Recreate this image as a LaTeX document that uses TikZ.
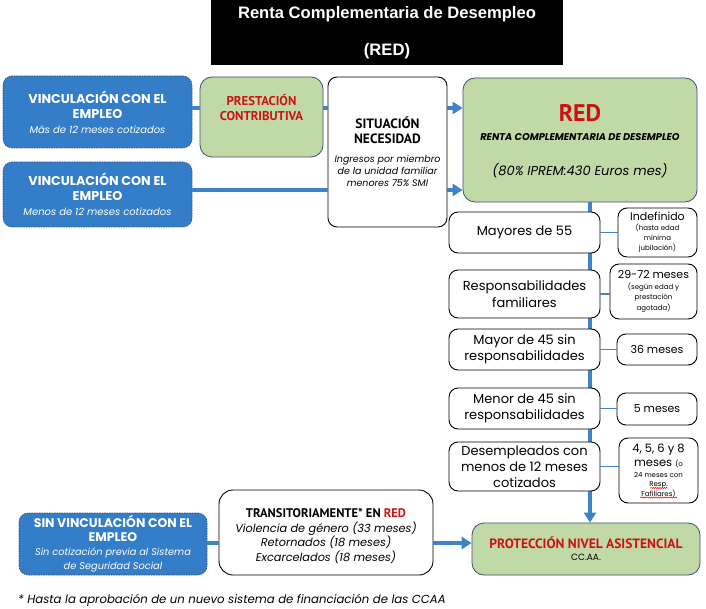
\documentclass[tikz,border=0pt]{standalone}
\usepackage{fontspec}
\setmainfont{Poppins}
\newfontfamily\titlefont{Liberation Sans}
\newfontfamily\narrowfont{PT Sans}
\usetikzlibrary{arrows.meta,decorations.pathmorphing,calc}
\definecolor{boxblue}{RGB}{52,125,200}
\definecolor{lineblue}{RGB}{62,130,200}
\definecolor{boxgreen}{RGB}{192,217,166}
\definecolor{darkred}{RGB}{204,18,18}
\definecolor{edgegray}{RGB}{60,80,110}
\newcommand\fsz[2]{\fontsize{#1}{#2}\selectfont}
\begin{document}
\begin{tikzpicture}[x=1pt,y=-1pt,
  titlebox/.style={fill=black, inner sep=0},
  titletext/.style={text=white, font=\titlefont\bfseries\fsz{16.6}{18}, inner sep=0},
  bluebox/.style={draw=edgegray, dash pattern=on 1.5pt off 1pt, line width=0.6pt, fill=boxblue, rounded corners=9pt, text=white, align=center, inner sep=0},
  whitebox/.style={draw=black, line width=0.9pt, fill=white, rounded corners=9pt, align=center, inner sep=0},
  greenbox/.style={draw=edgegray, line width=0.8pt, fill=boxgreen, rounded corners=12pt, align=center, inner sep=0},
  plain/.style={inner sep=0, align=center},
  mainline/.style={draw=lineblue, line width=3.5pt},
  mainarrow/.style={mainline, -{Triangle[length=10pt,width=12pt]}},
  thinline/.style={draw=lineblue, line width=1.2pt},
  squiggle/.style={draw=red, line width=0.5pt, decorate, decoration={snake, amplitude=0.6pt, segment length=2.2pt}}
]
\useasboundingbox (0,0) rectangle (706,609);
\fill[white] (0,0) rectangle (706,609);

% title
\node[titlebox, minimum width=352pt, minimum height=65pt] (title) at (387,32.5) {};
\node[titletext] (t1) at (387,14) {Renta Complementaria de Desempleo};
\node[titletext] (t2) at (387,51) {(RED)};

% rows
\coordinate (rowA) at (0,108);
\coordinate (rowB) at (0,190);
\coordinate (rowC) at (0,543);
\coordinate (spine) at (590,0);

% main boxes (top)
\node[bluebox, minimum width=189pt, minimum height=72pt, font=\fsz{10}{15}] (blue1) at (97.5,112)
  {{\bfseries\fsz{12.8}{15}VINCULACIÓN CON EL}\\{\bfseries\fsz{12.8}{15}EMPLEO}\\{\itshape Más de 12 meses cotizados}};
\node[bluebox, minimum width=189pt, minimum height=65pt, font=\fsz{10}{15}] (blue2) at (97.5,194.5)
  {{\bfseries\fsz{12.8}{15}VINCULACIÓN CON EL}\\{\bfseries\fsz{12.8}{15}EMPLEO}\\{\itshape Menos de 12 meses cotizados}};
\node[greenbox, minimum width=123pt, minimum height=80pt, text=darkred, font=\narrowfont\bfseries\fsz{12.8}{15}] (prest) at (261.5,117)
  {PRESTACIÓN\\CONTRIBUTIVA\\[4pt]};
\node[whitebox, minimum width=119pt, minimum height=150pt, font=\fsz{9.5}{12}] (sit) at (387.5,152)
  {{\narrowfont\bfseries\fsz{13.5}{14}SITUACIÓN}\\[3pt]{\narrowfont\bfseries\fsz{13.5}{14}NECESIDAD}\\[7pt]{\itshape Ingresos por miembro}\\{\itshape de la unidad familiar}\\{\itshape menores 75\% SMI}};
\node[greenbox, minimum width=234pt, minimum height=124pt] (red) at (580,140) {};
\node[plain, text=darkred, font=\narrowfont\bfseries\fsz{24}{26}] (redA) at (580,113) {RED};
\node[plain, font=\bfseries\itshape\fsz{9.8}{11}] (redB) at (580,137) {RENTA COMPLEMENTARIA DE DESEMPLEO};
\node[plain, font=\itshape\fsz{13}{14}] (redC) at (580,171) {(80\% IPREM:430 Euros mes)};

% bottom boxes
\node[greenbox, minimum width=228pt, minimum height=52pt] (prot) at (586,549) {};
\node[plain, text=darkred, font=\narrowfont\bfseries\fsz{13.5}{14}] (protA) at (586,543) {PROTECCIÓN NIVEL ASISTENCIAL};
\node[plain, font=\fsz{9}{10}] (protB) at (586,557) {CC.AA.};

% spine (behind column boxes)
\draw[mainarrow] (red.south -| spine) -- (prot.north -| spine);

% column boxes
\node[whitebox, minimum width=151pt, minimum height=41pt, font=\fsz{13}{16.5}] (may55) at (524.5,232.5) {Mayores de 55};
\node[whitebox, minimum width=79pt, minimum height=49pt, font=\fsz{7}{10}] (indef) at (657.5,232.5)
  {{\fsz{11}{12}Indefinido}\\(hasta edad\\mínima\\jubilación)};
\node[whitebox, minimum width=151pt, minimum height=48pt, font=\fsz{13}{16.5}] (resp) at (524.5,294) {Responsabilidades\\familiares};
\node[whitebox, minimum width=87pt, minimum height=55pt, font=\fsz{7}{10.5}] (r2972) at (653.5,291.5)
  {{\fsz{11}{15}29-72 meses}\\(según edad y\\prestación\\agotada)};
\node[whitebox, minimum width=151pt, minimum height=41pt, font=\fsz{13}{16}] (may45) at (524.5,349.5) {Mayor de 45 sin\\responsabilidades};
\node[whitebox, minimum width=80pt, minimum height=31pt, font=\fsz{11}{13}] (m36) at (657,349.5) {36 meses};
\node[whitebox, minimum width=151pt, minimum height=41pt, font=\fsz{13}{16}] (men45) at (524.5,408.5) {Menor de 45 sin\\responsabilidades};
\node[whitebox, minimum width=80pt, minimum height=32pt, font=\fsz{11}{13}] (m5) at (657,409) {5 meses};
\node[whitebox, minimum width=151pt, minimum height=49pt, font=\fsz{13}{16}] (desem) at (524.5,466.5) {Desempleados con\\menos de 12 meses\\cotizados};
\node[whitebox, minimum width=79pt, minimum height=65pt, font=\fsz{7}{9.3}] (m4568) at (658.5,470.5)
  {{\fsz{11.5}{14.5}4, 5, 6 y 8}\\[4pt]{\fsz{11.5}{11.5}meses }(o\\[1.5pt]24 meses con\\Resp.\\Fafiliares)};

\node[bluebox, minimum width=188pt, minimum height=62pt, font=\fsz{9.8}{14}] (sinv) at (113,544)
  {{\bfseries\fsz{12.5}{15}SIN VINCULACIÓN CON EL}\\{\bfseries\fsz{12.5}{14}EMPLEO}\\{\itshape Sin cotización previa al Sistema}\\{\itshape de Seguridad Social}};
\node[whitebox, rounded corners=14pt, minimum width=214pt, minimum height=85pt] (trans) at (326,532.5) {};
\node[plain, font=\itshape\fsz{11.3}{14.5}] (transtxt) at (326,536)
  {{\upshape\narrowfont\bfseries\fsz{12.5}{16}TRANSITORIAMENTE* EN {\color{darkred}RED}}\\Violencia de género (33 meses)\\Retornados (18 meses)\\Excarcelados (18 meses)};

% connectors
\draw[mainline] (blue1.east |- rowA) -- (prest.west |- rowA);
\draw[mainline] (prest.east |- rowA) -- (sit.west |- rowA);
\draw[mainarrow] (sit.east |- rowA) -- (red.west |- rowA);
\draw[mainline] (blue2.east |- rowB) -- (sit.west |- rowB);
\draw[mainarrow] (sit.east |- rowB) -- (red.west |- rowB);
\draw[mainline] (sinv.east |- rowC) -- (trans.west |- rowC);
\draw[mainarrow] (trans.east |- rowC) -- (prot.west |- rowC);

\draw[thinline] (may55.east) -- (may55.east -| indef.west);
\draw[thinline] (resp.east) -- (resp.east -| r2972.west);
\draw[thinline] (may45.east) -- (may45.east -| m36.west);
\draw[thinline] (men45.east) -- (men45.east -| m5.west);
\draw[thinline] (desem.east) -- (desem.east -| m4568.west);

% spell-check marks
\draw[squiggle] ($(m4568.center)+(-8,17.5)$) -- ++(17,0);
\draw[squiggle] ($(m4568.center)+(-18.5,27)$) -- ++(37,0);

% footnote
\node[plain, anchor=west, font=\itshape\fsz{11.7}{13}] (foot) at (18,600) {* Hasta la aprobación de un nuevo sistema de financiación de las CCAA};
\end{tikzpicture}
\end{document}
